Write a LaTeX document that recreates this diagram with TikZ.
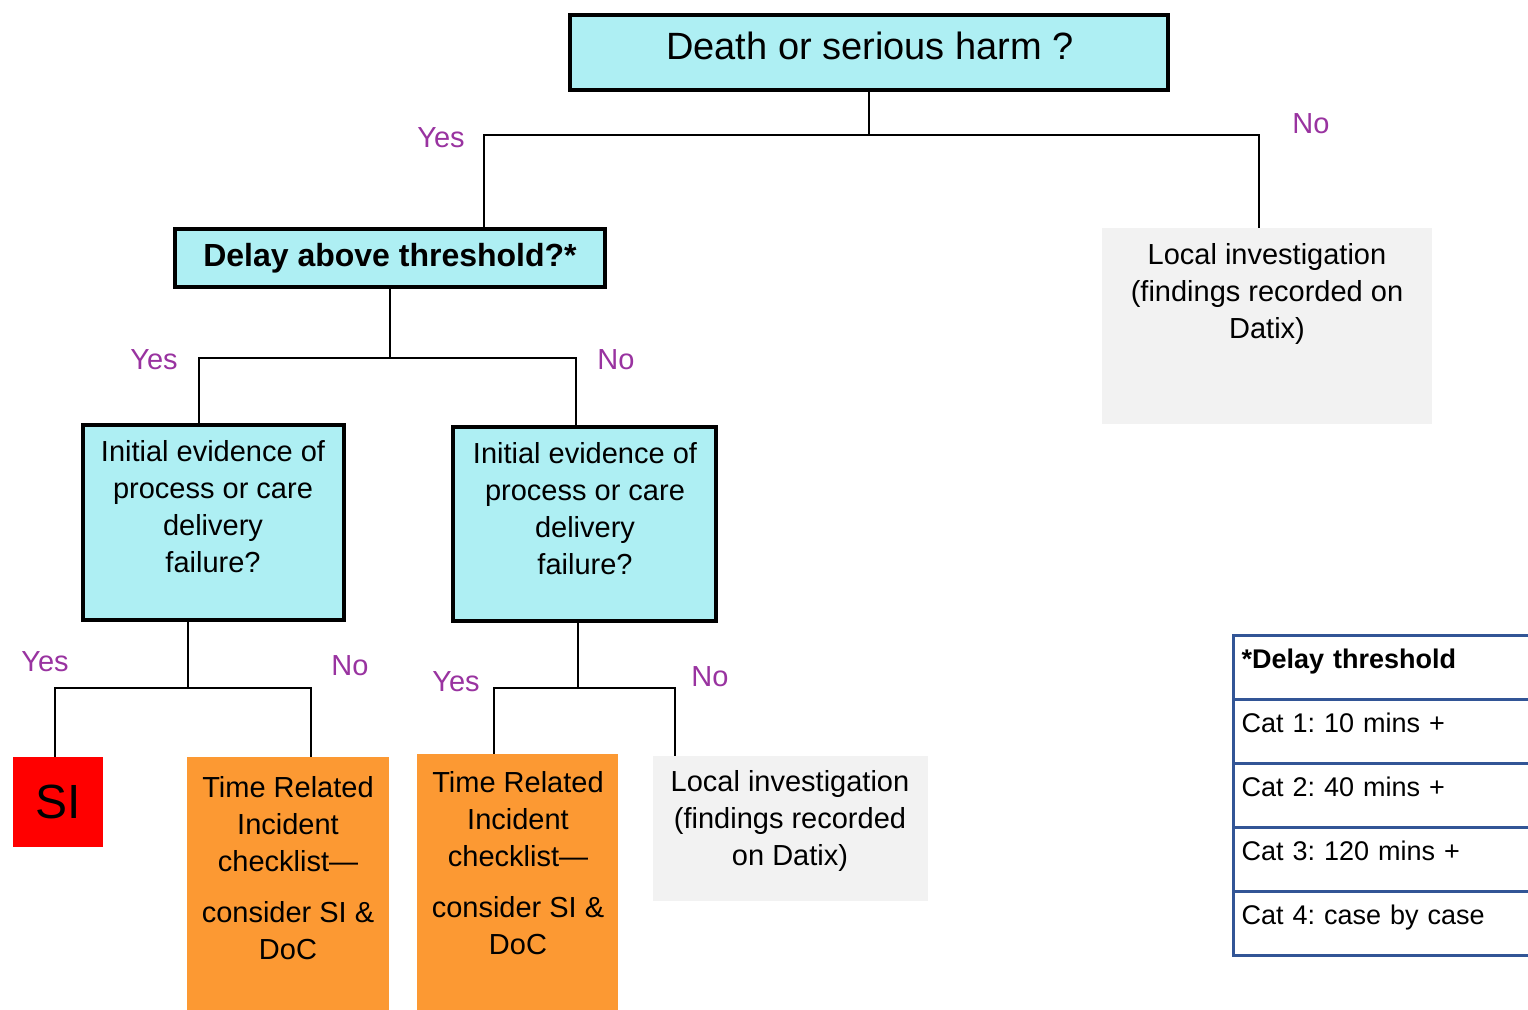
\documentclass[tikz,border=0pt]{standalone}
\usepackage{fontspec}
\setmainfont{Liberation Sans}
\usetikzlibrary{positioning}
\definecolor{qcyan}{RGB}{174,239,243}
\definecolor{qorange}{RGB}{252,153,51}
\definecolor{qgrey}{RGB}{242,242,242}
\definecolor{qpurple}{RGB}{153,51,160}
\definecolor{qblue}{RGB}{50,85,150}
\frenchspacing

\begin{document}
\begin{tikzpicture}[x=0.5pt, y=-0.5pt,
    question/.style={draw, line width=2pt, fill=qcyan, inner sep=0pt},
    outcome/.style={inner sep=0pt},
    txt/.style={align=center, inner sep=0pt, font=\fontsize{14.5}{18.5}\selectfont},
    answer/.style={text=qpurple, inner sep=0pt, font=\fontsize{14.5}{17}\selectfont},
    link/.style={line width=0.8pt},
    cell/.style={draw=qblue, line width=1.5pt, anchor=north west, text width=160pt, align=left,
        inner xsep=4pt, inner ysep=2pt, text height=14.5pt, text depth=13.5pt, font=\fontsize{13.5}{16}\selectfont}]
    \useasboundingbox (0,0) rectangle (1528,1010);
    \clip (0,0) rectangle (1528,1010);

    \node[question, minimum width=299pt, minimum height=37.5pt] (harm) at (869,52.5) {};
    \node[font=\fontsize{19}{22}\selectfont, inner sep=0pt] (harmtext) at (870,46) {Death or serious harm ?};

    \node[question, minimum width=215pt, minimum height=29pt] (delay) at (390,258)
        {\fontsize{16}{19}\selectfont\bfseries Delay above threshold?*};

    \node[outcome, fill=qgrey, minimum width=165pt, minimum height=98pt] (loc1) at (1267,326) {};
    \node[txt] (loc1text) at (1267,294) {Local investigation\\(findings recorded on\\Datix)};

    \node[question, minimum width=130.5pt, minimum height=97.5pt] (initA) at (213.5,522.5) {};
    \node[txt] (initAtext) at (213,507) {Initial evidence of\\process or care\\delivery\\failure?};
    \node[question, minimum width=131.5pt, minimum height=97pt] (initB) at (584.5,524) {};
    \node[txt] (initBtext) at (585,509) {Initial evidence of\\process or care\\delivery\\failure?};

    \node[outcome, fill=red, minimum size=45pt, font=\fontsize{24}{28}\selectfont] (si) at (58,802) {SI};
    \node[outcome, fill=qorange, minimum width=101pt, minimum height=136.5pt] (trA) at (288,893.5) {};
    \node[txt] (trAtext) at (288,868) {Time Related\\Incident\\checklist—\\[7pt]consider SI \&\\DoC};
    \node[outcome, fill=qorange, minimum width=100.5pt, minimum height=138pt] (trB) at (517.5,892) {};
    \node[txt] (trBtext) at (518,863) {Time Related\\Incident\\checklist—\\[7pt]consider SI \&\\DoC};
    \node[outcome, fill=qgrey, minimum width=137.5pt, minimum height=72.5pt] (locB) at (790.5,828.5) {};
    \node[txt] (locBtext) at (790,821) {Local investigation\\(findings recorded\\on Datix)};

    \coordinate (yesA) at (484,135);
    \coordinate (noA) at (1259,135);
    \draw[link] (harm.south) -- (harm.south |- yesA);
    \draw[link] (yesA |- delay.north) -- (yesA) -- (noA) -- (noA |- loc1.north);

    \coordinate (yesB) at (199,358);
    \coordinate (noB) at (576,358);
    \draw[link] (delay.south) -- (delay.south |- yesB);
    \draw[link] (yesB |- initA.north) -- (yesB) -- (noB) -- (noB |- initB.north);

    \coordinate (forkC) at (188,688);
    \coordinate (yesC) at (55,688);
    \coordinate (noC) at (311,688);
    \draw[link] (forkC |- initA.south) -- (forkC);
    \draw[link] (yesC |- si.north) -- (yesC) -- (noC) -- (noC |- trA.north);

    \coordinate (forkD) at (578,688);
    \coordinate (yesD) at (494,688);
    \coordinate (noD) at (675,688);
    \draw[link] (forkD |- initB.south) -- (forkD);
    \draw[link] (yesD |- trB.north) -- (yesD) -- (noD) -- (noD |- locB.north);

    \node[answer] (yes1) at (441,138) {Yes};
    \node[answer] (no1) at (1311,124) {No};
    \node[answer] (yes2) at (154,360) {Yes};
    \node[answer] (no2) at (616,360) {No};
    \node[answer] (yes3) at (45,662) {Yes};
    \node[answer] (no3) at (350,666) {No};
    \node[answer] (yes4) at (456,682) {Yes};
    \node[answer] (no4) at (710,677) {No};

    \foreach \row [count=\i from 0] in {{\bfseries *Delay threshold}, Cat 1: 10 mins +, Cat 2: 40 mins +, Cat 3: 120 mins +, Cat 4: case by case}
        \node[cell] (thr\i) at (1232,{634+64*\i}) {\row};
\end{tikzpicture}
\end{document}
